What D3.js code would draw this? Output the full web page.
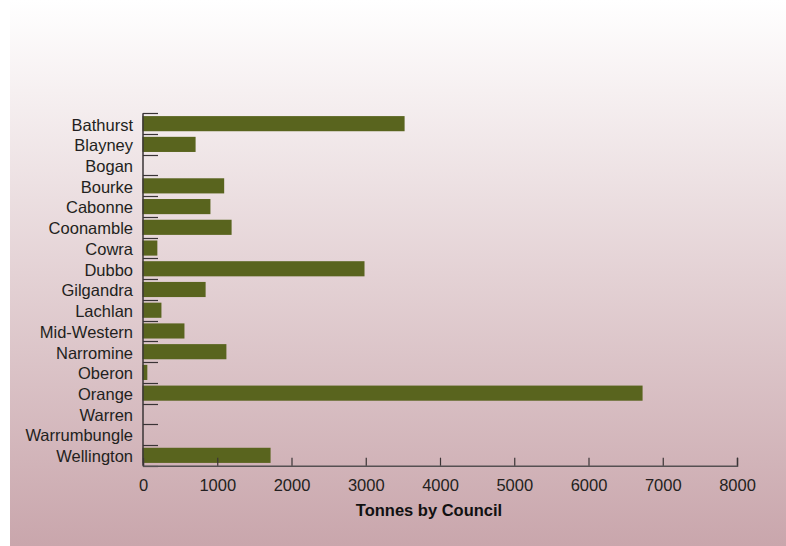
<!DOCTYPE html>
<html><head><meta charset="utf-8">
<script src="https://cdn.jsdelivr.net/npm/d3@7"></script>
<style>body{margin:0;background:#fff}svg{display:block}</style>
</head><body>
<script>
const councils = ["Bathurst","Blayney","Bogan","Bourke","Cabonne","Coonamble","Cowra","Dubbo","Gilgandra","Lachlan","Mid-Western","Narromine","Oberon","Orange","Warren","Warrumbungle","Wellington"];
const tonnes = [3530,715,0,1100,915,1200,200,2990,850,255,565,1130,65,6735,0,0,1725];
const xTicks = [0,1000,2000,3000,4000,5000,6000,7000,8000];
const axisTitle = "Tonnes by Council";

const W = 786, H = 546;
const svg = d3.select("body").append("svg").attr("width", W).attr("height", H);
const defs = svg.append("defs");
const g = defs.append("linearGradient").attr("id","bg").attr("x1",0).attr("y1",0).attr("x2",0).attr("y2",1);
g.append("stop").attr("offset","0%").attr("stop-color","#ffffff");
g.append("stop").attr("offset","50%").attr("stop-color","#e4d2d5");
g.append("stop").attr("offset","100%").attr("stop-color","#c9a6ac");
svg.append("rect").attr("x",10).attr("y",0).attr("width",W-10).attr("height",H).attr("fill","url(#bg)");

const pL = 143, pR = 737, pT = 113.3, pB = 465.7;
const x = d3.scaleLinear().domain([0,8000]).range([pL,pR]);
const y = d3.scaleBand().domain(councils).range([pT,pB]).paddingInner(0.27).paddingOuter(0.135);
const yb = d3.scaleBand().domain(councils).range([pT,pB]);
const font = "'Liberation Sans', Arial, sans-serif";
const txt = "#231f20";

// bars
svg.append("g").selectAll("rect").data(councils).join("rect")
  .attr("x", x(0)-0.5).attr("y", d=>y(d))
  .attr("width", (d,i)=>Math.max(0, x(tonnes[i])-x(0)))
  .attr("height", y.bandwidth()).attr("fill","#59641e");

// y axis: ticks at band boundaries
const yBounds = councils.map(c=>yb(c)).concat([pB]);
const ya = svg.append("g");
ya.selectAll("line.t").data(yBounds).join("line")
  .attr("x1", pL).attr("x2", pL+15).attr("y1", d=>Math.round(d)+0.5).attr("y2", d=>Math.round(d)+0.5)
  .attr("stroke","#3a3436").attr("stroke-width",1.2);
ya.append("line").attr("x1",pL).attr("x2",pL).attr("y1",pT).attr("y2",pB)
  .attr("stroke","#3a3436").attr("stroke-width",1.5);
ya.selectAll("text").data(councils).join("text")
  .attr("x", pL-10).attr("y", d=>yb(d)+yb.bandwidth()/2+2.5)
  .attr("text-anchor","end").attr("dominant-baseline","middle")
  .attr("font-family",font).attr("font-size","16.5px").attr("fill",txt).text(d=>d);

// x axis
const xa = svg.append("g").attr("transform",`translate(0,${pB})`);
const xAxis = d3.axisBottom(x).tickValues(xTicks).tickSize(-8).tickPadding(14).tickFormat(d3.format("d"));
xa.call(xAxis);
xa.select(".domain").attr("stroke","#555052").attr("stroke-width",1.5);
xa.selectAll(".tick line").attr("stroke","#3a3436").attr("stroke-width",1.2);
xa.selectAll(".tick text").attr("font-family",font).attr("font-size","16.5px").attr("fill",txt);

svg.append("text").attr("x",429).attr("y",515.5).attr("text-anchor","middle")
  .attr("font-family",font).attr("font-weight","bold").attr("font-size","16.5px").attr("fill","#111")
  .text(axisTitle);
</script>
</body></html>
